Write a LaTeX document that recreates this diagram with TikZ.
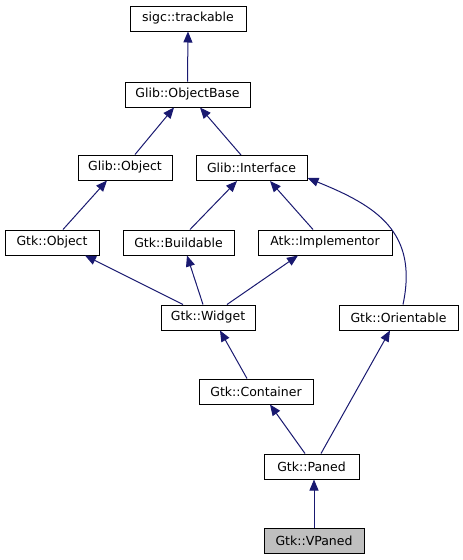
\documentclass[tikz,border=0pt]{standalone}
\usepackage{fontspec}
\setmainfont{DejaVu Sans}
\usetikzlibrary{arrows.meta}
\definecolor{edgeblue}{HTML}{191970}
\definecolor{leafgray}{HTML}{BFBFBF}
\begin{document}
\begin{tikzpicture}[x=1pt,y=-1pt,
	cls/.style={rectangle,draw,line width=1pt,fill=white,minimum height=25pt,inner sep=0pt,font=\fontsize{12.5}{14}\selectfont},
	inh/.style={edgeblue,line width=1pt,-{Triangle[length=11pt,width=9pt]}}]
	\useasboundingbox (0,0) rectangle (463,560);
	% classes
	\node (trackable) [cls,minimum width=116pt] at (188,18.5) {sigc::trackable};
	\node (objectbase) [cls,minimum width=125pt] at (187.5,94.5) {Glib::ObjectBase};
	\node (glibobject) [cls,minimum width=94pt] at (125,167.5) {Glib::Object};
	\node (interface) [cls,minimum width=111pt] at (251.5,168) {Glib::Interface};
	\node (gtkobject) [cls,minimum width=94pt] at (52,242.5) {Gtk::Object};
	\node (buildable) [cls,minimum width=111pt] at (178.5,242.5) {Gtk::Buildable};
	\node (implementor) [cls,minimum width=134pt] at (325,242.5) {Atk::Implementor};
	\node (widget) [cls,minimum width=94pt] at (208,317.5) {Gtk::Widget};
	\node (orientable) [cls,minimum width=119pt] at (398.5,317.5) {Gtk::Orientable};
	\node (container) [cls,minimum width=114pt] at (256,391.5) {Gtk::Container};
	\node (paned) [cls,minimum width=95pt] at (311.5,466.5) {Gtk::Paned};
	\node (vpaned) [cls,minimum width=100pt,fill=leafgray] at (314,541) {Gtk::VPaned};
	% inheritance
	\draw [inh] (objectbase.north) -- (trackable.south);
	\draw [inh] ([xshift=10pt]glibobject.north) -- ([xshift=-13.5pt]objectbase.south);
	\draw [inh] ([xshift=-10.5pt]interface.north) -- ([xshift=12.5pt]objectbase.south);
	\draw [inh] ([xshift=11pt]gtkobject.north) -- ([xshift=-18pt]glibobject.south);
	\draw [inh] ([xshift=11.5pt]buildable.north) -- ([xshift=-14.5pt]interface.south);
	\draw [inh] ([xshift=-12pt]implementor.north) -- ([xshift=18.5pt]interface.south);
	\draw [inh] ([xshift=4.5pt]orientable.north) to[out=78,in=-22,looseness=1.2] ([yshift=-10pt]interface.east);
	\draw [inh] ([xshift=-25pt]widget.north) -- ([xshift=33pt]gtkobject.south);
	\draw [inh] ([xshift=-5pt]widget.north) -- ([xshift=8.5pt]buildable.south);
	\draw [inh] ([xshift=19pt]widget.north) -- ([xshift=-27pt]implementor.south);
	\draw [inh] ([xshift=-9pt]container.north) -- ([xshift=12pt]widget.south);
	\draw [inh] ([xshift=-6.5pt]paned.north) -- ([xshift=14pt]container.south);
	\draw [inh] ([xshift=9.5pt]paned.north) -- ([xshift=-8.5pt]orientable.south);
	\draw [inh] (vpaned.north) -- ([xshift=2.5pt]paned.south);
\end{tikzpicture}
\end{document}
